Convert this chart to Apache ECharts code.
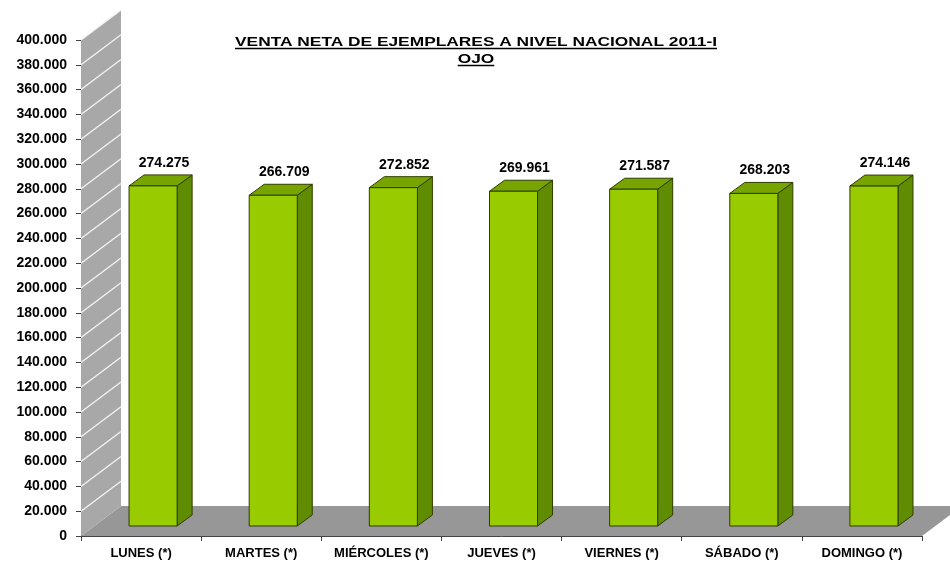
<!DOCTYPE html>
<html><head><meta charset="utf-8">
<script src="https://cdn.jsdelivr.net/npm/echarts@6/dist/echarts.min.js"></script>
<style>html,body{margin:0;padding:0;background:#fff}#c{width:950px;height:561px}</style>
</head><body><div id="c"></div>
<script>
const categories = ['LUNES (*)','MARTES (*)','MIÉRCOLES (*)','JUEVES (*)','VIERNES (*)','SÁBADO (*)','DOMINGO (*)'];
const values = [274275, 266709, 272852, 269961, 271587, 268203, 274146];
const yMin = 0, yMax = 400000, yInterval = 20000;
const titleLine1 = 'VENTA NETA DE EJEMPLARES A NIVEL NACIONAL 2011-I';
const titleLine2 = 'OJO';

function fmtThousands(v){
  if (v === 0) return '0';
  const k = Math.floor(v/1000), r = v % 1000;
  return k + '.' + String(r).padStart(3,'0');
}

const titleFont = 'bold 13px "Liberation Sans", Arial, sans-serif';
const mctx = document.createElement('canvas').getContext('2d');
mctx.font = titleFont;
const w1 = mctx.measureText(titleLine1).width;
const w2 = mctx.measureText(titleLine2).width;
const tScale = 482 / w1;
const tcx = 476;

const chart = echarts.init(document.getElementById('c'), null, {renderer:'canvas'});

const WALL_DX = 40, WALL_DY = -30;
const BAR_DX = 15, BAR_DY = -11;

function renderBackground(params, api){
  const cs = params.coordSys;
  const x0 = cs.x, yb = cs.y + cs.height, yt = cs.y, x1 = cs.x + cs.width;
  const children = [];
  children.push({type:'polygon', shape:{points:[[x0,yb],[x1,yb],[x1+WALL_DX,yb+WALL_DY],[x0+WALL_DX,yb+WALL_DY]]},
    style:{fill:'#979797'}});
  children.push({type:'polygon', shape:{points:[[x0,yb],[x0+WALL_DX,yb+WALL_DY],[x0+WALL_DX,yt+WALL_DY],[x0,yt]]},
    style:{fill:'#a8a8a8'}});
  for (let v = yMin + yInterval; v <= yMax; v += yInterval){
    const y = api.coord([0, v])[1];
    children.push({type:'line', shape:{x1:x0, y1:y, x2:x0+WALL_DX, y2:y+WALL_DY},
      style:{stroke:'#f4f4f4', lineWidth:1.3}});
  }
  return {type:'group', children};
}

function renderBar(params, api){
  const idx = api.value(0), val = api.value(1);
  const base = api.coord([idx, 0]);
  const top = api.coord([idx, val]);
  const bw = api.size([1, 0])[0];
  const cx = base[0];
  const L = cx - 0.1*bw, R = cx + 0.3*bw;
  const fy0 = base[1] - 10, fy1 = top[1] - 10;
  const stroke = '#2e3d00';
  return {type:'group', children:[
    {type:'polygon', shape:{points:[[R,fy1],[R+BAR_DX,fy1+BAR_DY],[R+BAR_DX,fy0+BAR_DY],[R,fy0]]},
      style:{fill:'#5f8c00', stroke, lineWidth:1}},
    {type:'polygon', shape:{points:[[L,fy1],[R,fy1],[R+BAR_DX,fy1+BAR_DY],[L+BAR_DX,fy1+BAR_DY]]},
      style:{fill:'#78a400', stroke, lineWidth:1}},
    {type:'rect', shape:{x:L, y:fy1, width:R-L, height:fy0-fy1},
      style:{fill:'#99cc00', stroke, lineWidth:1}},
    {type:'text', style:{text:fmtThousands(val), x:cx+23, y:top[1]-33, textAlign:'center', textVerticalAlign:'middle',
      font:'bold 14px "Liberation Sans", Arial, sans-serif', fill:'#000'}}
  ]};
}

chart.setOption({
  animation:false,
  backgroundColor:'#fff',
  grid:{left:81, right:28, top:40, bottom:25},
  xAxis:{type:'category', data:categories, boundaryGap:true,
    axisLine:{show:true, lineStyle:{color:'#444', width:1}},
    axisTick:{show:true, length:5, lineStyle:{color:'#444'}},
    axisLabel:{interval:0, color:'#000', fontWeight:'bold', fontSize:13, margin:11, fontFamily:'Liberation Sans'},
    splitLine:{show:false}},
  yAxis:{type:'value', min:yMin, max:yMax, interval:yInterval,
    axisLine:{show:true, lineStyle:{color:'#444', width:1}},
    axisTick:{show:true, length:5, lineStyle:{color:'#444'}},
    axisLabel:{color:'#000', fontWeight:'bold', fontSize:14, margin:14, fontFamily:'Liberation Sans', formatter:fmtThousands},
    splitLine:{show:false}},
  graphic:[
    {type:'text', x:tcx, y:42, scaleX:tScale, style:{text:titleLine1, x:0, y:0, textAlign:'center', textVerticalAlign:'middle', font:titleFont, fill:'#000'}},
    {type:'line', shape:{x1:tcx-w1*tScale/2, y1:48.5, x2:tcx+w1*tScale/2, y2:48.5}, style:{stroke:'#000', lineWidth:1.5}},
    {type:'text', x:tcx, y:59, scaleX:tScale, style:{text:titleLine2, x:0, y:0, textAlign:'center', textVerticalAlign:'middle', font:titleFont, fill:'#000'}},
    {type:'line', shape:{x1:tcx-w2*tScale/2, y1:65.5, x2:tcx+w2*tScale/2, y2:65.5}, style:{stroke:'#000', lineWidth:1.5}}
  ],
  series:[
    {type:'custom', z:1, clip:false, silent:true, data:[[0,0]], renderItem:renderBackground},
    {type:'custom', z:3, clip:false, data:values.map((v,i)=>[i,v]), renderItem:renderBar}
  ]
});
</script></body></html>
